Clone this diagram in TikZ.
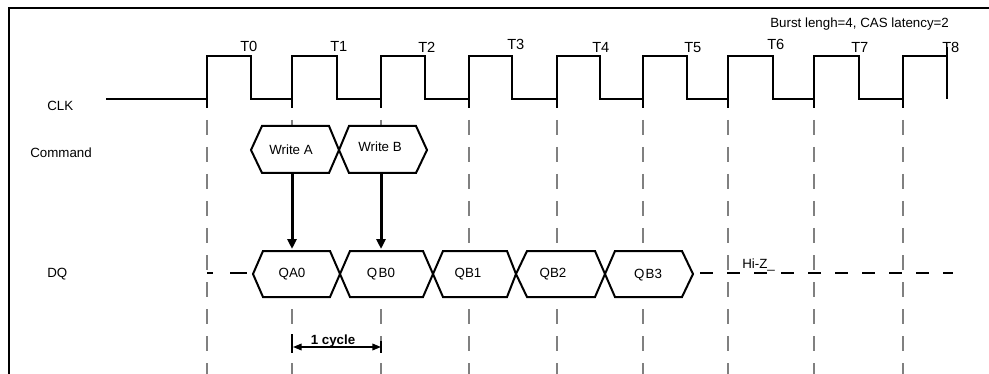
\documentclass[tikz,border=0pt]{standalone}
\usepackage{fontspec}
\setmainfont{Liberation Sans}
\usetikzlibrary{arrows.meta}
\begin{document}
\begin{tikzpicture}[x=0.75pt,y=-0.75pt,
  lbl/.style={inner sep=0pt, anchor=base west, font=\fontsize{10}{12}\selectfont},
  tlbl/.style={inner sep=0pt, anchor=base west, font=\fontsize{11}{13}\selectfont},
  clab/.style={inner sep=0pt, anchor=base, font=\fontsize{10}{12}\selectfont},
  sig/.style={line width=1.6pt, line join=miter},
  hexa/.style={line width=1.5pt, fill=white, line join=miter},
  gridline/.style={draw=gray, line width=0.8pt, dash pattern=on 11.25pt off 9pt},
  hiz/.style={line width=0.9pt, dash pattern=on 9.75pt off 10.5pt},
  bigarrow/.style={line width=2.25pt, -{Triangle[length=7.5pt,width=6.75pt]}},
  cyc/.style={line width=1.1pt, {Triangle[length=6.5pt,width=5pt]}-{Triangle[length=6.5pt,width=5pt]}}
]
\useasboundingbox (0,0) rectangle (989,374);
% frame
\draw[line width=1.5pt] (9,374) -- (9,8) -- (989,8);
% grid
\foreach \x in {207,292,381,469,557,643,728,814,903}
  \draw[gridline] (\x,120) -- (\x,374);
% clock
\draw[sig] (106,99) -- (207,99) -- (207,56) -- (251,56) -- (251,99) -- (292,99) -- (292,56) -- (337,56) -- (337,99) -- (381,99) -- (381,56) -- (425,56) -- (425,99) -- (469,99) -- (469,56) -- (512,56) -- (512,99) -- (557,99) -- (557,56) -- (600,56) -- (600,99) -- (643,99) -- (643,56) -- (687,56) -- (687,99) -- (728,99) -- (728,56) -- (773,56) -- (773,99) -- (814,99) -- (814,56) -- (859,56) -- (859,99) -- (903,99) -- (903,56) -- (947,56) -- (947,99);
\foreach \x in {207,292,381,469,557,643,728,814,903}
  \draw[sig] (\x,99) -- (\x,108);
\draw[sig] (947,47) -- (947,56);
% clock labels
\node[tlbl] (t0) at (240,52) {T0};
\node[tlbl] (t1) at (330,52) {T1};
\node[tlbl] (t2) at (418,53) {T2};
\node[tlbl] (t3) at (507,50) {T3};
\node[tlbl] (t4) at (592,53) {T4};
\node[tlbl] (t5) at (684,53) {T5};
\node[tlbl] (t6) at (767,50) {T6};
\node[tlbl] (t7) at (851,53) {T7};
\node[tlbl] (t8) at (942,53) {T8};
\node[lbl] (burst) at (770,28) {Burst lengh=4, CAS latency=2};
% row labels
\node[lbl] (clk) at (47,111) {CLK};
\node[lbl] (cmd) at (30,158) {Command};
\node[lbl] (dq) at (47,277) {DQ};
% command hexagons
\draw[hexa] (251,150) -- (262,126) -- (329,126) -- (339,150) -- (329,173) -- (262,173) -- cycle;
\draw[hexa] (339,150) -- (349,126) -- (416,126) -- (427,150) -- (416,173) -- (349,173) -- cycle;
\node[clab] (wa) at (291,155) {Write A};
\node[clab] (wb) at (380,152) {Write B};
% DQ dashes
\draw[line width=0.9pt] (207,273) -- (213,273);
\draw[line width=0.9pt] (230,273) -- (247,273);
\draw[hiz] (700,273) -- (953,273);
% DQ hexagons
\draw[hexa] (253,274) -- (263,251) -- (330,251) -- (340,274) -- (330,297) -- (263,297) -- cycle;
\draw[hexa] (340,274) -- (350,251) -- (423,251) -- (433,274) -- (423,297) -- (350,297) -- cycle;
\draw[hexa] (433,274) -- (443,251) -- (507,251) -- (516,274) -- (507,297) -- (443,297) -- cycle;
\draw[hexa] (516,274) -- (527,251) -- (595,251) -- (605,274) -- (595,297) -- (527,297) -- cycle;
\draw[hexa] (605,274) -- (615,251) -- (682,251) -- (693,274) -- (682,297) -- (615,297) -- cycle;
\node[clab] (qa0) at (292,277) {QA0};
\node[clab] (qb0) at (381,277) {Q\kern1pt B0};
\node[clab] (qb1) at (468,277) {QB1};
\node[clab] (qb2) at (553,277) {QB2};
\node[clab] (qb3) at (648,278) {Q\kern1pt B3};
\node[lbl] (hiz) at (742,268) {Hi-Z\_};
% write arrows
\coordinate (wab) at (292,173);
\coordinate (qat) at (292,249);
\coordinate (wbb) at (381,173);
\coordinate (qbt) at (381,249);
\draw[bigarrow] (wab) -- (qat);
\draw[bigarrow] (wbb) -- (qbt);
% 1 cycle
\coordinate (cl) at (293,347);
\coordinate (cr) at (381,347);
\draw[line width=0.9pt] (292,334) -- (292,353);
\draw[line width=0.9pt] (381,341) -- (381,353);
\draw[cyc] (cl) -- (cr);
\node[clab, font=\bfseries\fontsize{10}{12}\selectfont] (cyc) at (333,344) {1 cycle};
\end{tikzpicture}
\end{document}
